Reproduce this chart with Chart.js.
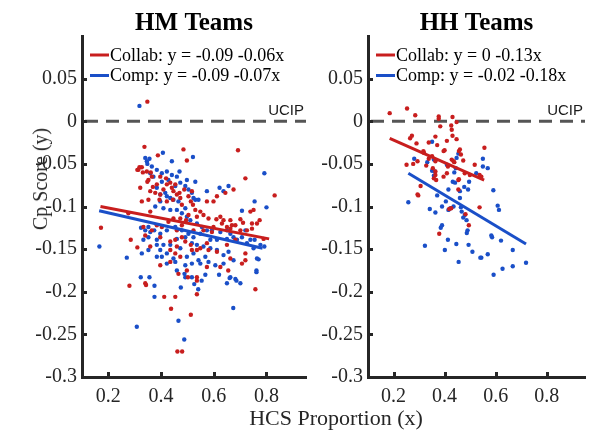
<!DOCTYPE html>
<html>
<head>
<meta charset="utf-8">
<title>Cp Score vs HCS Proportion</title>
<script src="https://cdn.jsdelivr.net/npm/chart.js@4.4.1/dist/chart.umd.min.js"></script>
<style>
  body { margin: 0; background: #fff; }
  #wrap { position: relative; width: 589px; height: 435px; overflow: hidden; }
  canvas { position: absolute; top: 0; }
  #cl { left: 0; }
  #cr { left: 310px; }
  .axlab { position: absolute; font-family: "Liberation Serif", "Times New Roman", serif; color: #262626; white-space: nowrap; line-height: 1; }
  #ylab { left: 40px; top: 179px; font-size: 20px; transform: translate(-50%, -50%) rotate(-90deg); }
  #xlab { left: 336px; top: 418px; font-size: 22px; transform: translate(-50%, -50%); }
</style>
</head>
<body>
<div id="wrap">
  <canvas id="cl" width="310" height="435"></canvas>
  <canvas id="cr" width="279" height="435"></canvas>
  <div class="axlab" id="ylab">Cp Score (y)</div>
  <div class="axlab" id="xlab">HCS Proportion (x)</div>
</div>
<script>
// ticks and ranges (same for both panels)
const xTicks = [0.2, 0.4, 0.6, 0.8];
const yTicks = [-0.3, -0.25, -0.2, -0.15, -0.1, -0.05, 0, 0.05];
const xRange = [0.1, 0.95];
const yRange = [-0.3, 0.1];
const ucipLevel = 0;

const panelTitles = ['HM Teams', 'HH Teams'];
const hmLegend = ['Collab: y = -0.09 -0.06x', 'Comp: y = -0.09 -0.07x'];
const hhLegend = ['Collab: y = 0 -0.13x', 'Comp: y = -0.02 -0.18x'];

// fitted lines, end points
const hmCollabFit = [[0.17, -0.100], [0.81, -0.138]];
const hmCompFit = [[0.165, -0.105], [0.785, -0.149]];
const hhCollabFit = [[0.185, -0.020], [0.555, -0.069]];
const hhCompFit = [[0.258, -0.061], [0.719, -0.144]];

// HM teams, collaborative
const hmCollab = [
  [0.348, 0.023], [0.337, -0.030], [0.485, -0.033], [0.388, -0.040], [0.498, -0.046], [0.692, -0.034],
  [0.314, -0.057], [0.327, -0.054], [0.346, -0.059], [0.361, -0.060], [0.365, -0.065], [0.397, -0.065],
  [0.419, -0.067], [0.435, -0.072], [0.454, -0.074], [0.321, -0.078], [0.348, -0.071], [0.359, -0.082],
  [0.378, -0.084], [0.397, -0.086], [0.447, -0.082], [0.470, -0.084], [0.517, -0.082], [0.327, -0.094],
  [0.352, -0.092], [0.394, -0.092], [0.422, -0.094], [0.445, -0.092], [0.479, -0.098], [0.513, -0.094],
  [0.574, -0.094], [0.612, -0.088], [0.599, -0.094], [0.675, -0.080], [0.644, -0.084], [0.720, -0.067],
  [0.831, -0.087], [0.751, -0.104], [0.739, -0.106], [0.701, -0.115], [0.663, -0.116], [0.637, -0.116],
  [0.625, -0.112], [0.599, -0.124], [0.561, -0.128], [0.523, -0.128], [0.495, -0.116], [0.479, -0.122],
  [0.460, -0.128], [0.536, -0.112], [0.593, -0.130], [0.663, -0.126], [0.701, -0.128], [0.745, -0.126],
  [0.774, -0.116], [0.789, -0.138], [0.172, -0.125], [0.276, -0.108], [0.285, -0.139], [0.310, -0.148],
  [0.359, -0.147], [0.397, -0.136], [0.454, -0.139], [0.479, -0.136], [0.513, -0.145], [0.536, -0.151],
  [0.574, -0.143], [0.473, -0.159], [0.397, -0.169], [0.435, -0.165], [0.466, -0.179], [0.498, -0.175],
  [0.536, -0.183], [0.574, -0.171], [0.625, -0.171], [0.663, -0.161], [0.720, -0.155], [0.720, -0.163],
  [0.707, -0.167], [0.310, -0.057], [0.318, -0.054], [0.331, -0.060], [0.352, -0.069], [0.369, -0.077],
  [0.384, -0.074], [0.409, -0.080], [0.422, -0.074], [0.441, -0.078], [0.460, -0.086], [0.473, -0.090],
  [0.488, -0.080], [0.504, -0.088], [0.521, -0.098], [0.530, -0.104], [0.549, -0.106], [0.561, -0.110],
  [0.580, -0.114], [0.610, -0.115], [0.631, -0.120], [0.650, -0.124], [0.669, -0.122], [0.682, -0.122],
  [0.711, -0.119], [0.726, -0.128], [0.745, -0.120], [0.764, -0.120], [0.504, -0.110], [0.473, -0.114],
  [0.447, -0.114], [0.428, -0.118], [0.403, -0.124], [0.384, -0.122], [0.365, -0.128], [0.340, -0.134],
  [0.435, -0.141], [0.460, -0.147], [0.492, -0.141], [0.517, -0.151], [0.549, -0.149], [0.580, -0.151],
  [0.612, -0.153], [0.650, -0.145], [0.682, -0.139], [0.435, -0.151], [0.454, -0.155], [0.333, -0.124],
  [0.359, -0.106], [0.280, -0.193], [0.340, -0.190], [0.343, -0.192], [0.412, -0.206], [0.454, -0.206],
  [0.438, -0.220], [0.513, -0.227], [0.462, -0.270], [0.480, -0.270], [0.502, -0.183], [0.536, -0.187],
  [0.536, -0.203], [0.758, -0.197], [0.655, -0.175]
];

// HM teams, competitive
const hmComp = [
  [0.318, 0.018], [0.340, -0.043], [0.356, -0.044], [0.407, -0.037], [0.441, -0.047], [0.521, -0.042],
  [0.470, -0.059], [0.359, -0.061], [0.371, -0.065], [0.403, -0.071], [0.428, -0.069], [0.454, -0.076],
  [0.498, -0.069], [0.530, -0.071], [0.416, -0.084], [0.435, -0.090], [0.397, -0.094], [0.378, -0.100],
  [0.409, -0.102], [0.435, -0.104], [0.460, -0.104], [0.492, -0.102], [0.523, -0.090], [0.542, -0.092],
  [0.574, -0.082], [0.622, -0.078], [0.637, -0.082], [0.656, -0.076], [0.707, -0.105], [0.755, -0.094],
  [0.792, -0.061], [0.800, -0.101], [0.324, -0.125], [0.352, -0.124], [0.374, -0.128], [0.397, -0.132],
  [0.422, -0.128], [0.454, -0.124], [0.479, -0.128], [0.504, -0.132], [0.523, -0.136], [0.549, -0.132],
  [0.587, -0.139], [0.612, -0.139], [0.650, -0.138], [0.675, -0.136], [0.726, -0.143], [0.755, -0.139],
  [0.777, -0.145], [0.792, -0.147], [0.166, -0.147], [0.270, -0.160], [0.327, -0.155], [0.352, -0.136],
  [0.384, -0.139], [0.397, -0.151], [0.422, -0.155], [0.447, -0.161], [0.473, -0.149], [0.498, -0.159],
  [0.523, -0.155], [0.542, -0.163], [0.568, -0.159], [0.606, -0.169], [0.637, -0.167], [0.675, -0.163],
  [0.764, -0.161], [0.770, -0.162], [0.762, -0.175], [0.323, -0.183], [0.356, -0.183], [0.403, -0.159],
  [0.460, -0.175], [0.492, -0.183], [0.568, -0.180], [0.663, -0.183], [0.682, -0.185], [0.346, -0.047],
  [0.348, -0.050], [0.365, -0.053], [0.384, -0.057], [0.403, -0.061], [0.422, -0.059], [0.441, -0.063],
  [0.460, -0.065], [0.473, -0.072], [0.492, -0.076], [0.504, -0.080], [0.517, -0.084], [0.530, -0.092],
  [0.384, -0.078], [0.397, -0.086], [0.422, -0.088], [0.447, -0.092], [0.466, -0.094], [0.479, -0.108],
  [0.498, -0.112], [0.511, -0.116], [0.536, -0.120], [0.555, -0.124], [0.574, -0.128], [0.593, -0.128],
  [0.625, -0.130], [0.650, -0.128], [0.663, -0.132], [0.688, -0.139], [0.707, -0.136], [0.720, -0.128],
  [0.739, -0.139], [0.751, -0.149], [0.340, -0.128], [0.359, -0.130], [0.384, -0.145], [0.409, -0.145],
  [0.435, -0.145], [0.460, -0.138], [0.492, -0.136], [0.517, -0.143], [0.536, -0.145], [0.561, -0.147],
  [0.587, -0.149], [0.612, -0.151], [0.637, -0.157], [0.656, -0.153], [0.549, -0.167], [0.580, -0.165],
  [0.517, -0.167], [0.492, -0.169], [0.454, -0.165], [0.422, -0.167], [0.384, -0.159], [0.352, -0.151],
  [0.333, -0.139], [0.375, -0.193], [0.375, -0.206], [0.466, -0.234], [0.308, -0.241], [0.488, -0.256],
  [0.489, -0.179], [0.517, -0.183], [0.475, -0.195], [0.526, -0.191], [0.541, -0.197], [0.554, -0.187],
  [0.620, -0.180], [0.650, -0.190], [0.660, -0.184], [0.686, -0.187], [0.701, -0.190], [0.674, -0.219],
  [0.762, -0.177]
];

// HH teams, collaborative
const hhCollab = [
  [0.185, 0.0095], [0.253, 0.015], [0.285, 0.007], [0.377, 0.0055], [0.377, 0.003], [0.431, 0.005],
  [0.447, -0.001], [0.426, -0.005], [0.428, -0.010], [0.431, -0.017], [0.383, -0.006], [0.364, -0.018],
  [0.338, -0.025], [0.409, -0.023], [0.447, -0.021], [0.272, -0.017], [0.265, -0.020], [0.290, -0.026],
  [0.371, -0.028], [0.460, -0.033], [0.456, -0.035], [0.464, -0.039], [0.396, -0.035], [0.400, -0.034],
  [0.317, -0.035], [0.319, -0.037], [0.351, -0.041], [0.338, -0.044], [0.364, -0.047], [0.251, -0.051],
  [0.277, -0.050], [0.294, -0.047], [0.328, -0.052], [0.354, -0.055], [0.428, -0.045], [0.435, -0.047],
  [0.438, -0.048], [0.473, -0.046], [0.518, -0.051], [0.556, -0.031], [0.413, -0.053], [0.409, -0.061],
  [0.364, -0.063], [0.358, -0.067], [0.396, -0.065], [0.454, -0.069], [0.456, -0.068], [0.479, -0.061],
  [0.499, -0.063], [0.537, -0.063], [0.544, -0.065], [0.364, -0.059], [0.367, -0.069], [0.306, -0.076],
  [0.294, -0.086], [0.297, -0.087], [0.454, -0.080], [0.418, -0.103], [0.426, -0.102], [0.482, -0.109],
  [0.537, -0.101], [0.495, -0.122], [0.379, -0.132]
];

// HH teams, competitive
const hhComp = [
  [0.351, -0.024], [0.454, -0.038], [0.281, -0.044], [0.332, -0.048], [0.358, -0.045], [0.409, -0.051],
  [0.447, -0.043], [0.550, -0.044], [0.569, -0.055], [0.550, -0.053], [0.351, -0.058], [0.362, -0.059],
  [0.358, -0.064], [0.444, -0.055], [0.438, -0.060], [0.432, -0.071], [0.441, -0.072], [0.496, -0.071],
  [0.524, -0.061], [0.492, -0.080], [0.477, -0.077], [0.415, -0.080], [0.460, -0.082], [0.591, -0.081],
  [0.371, -0.087], [0.405, -0.094], [0.390, -0.100], [0.435, -0.100], [0.423, -0.102], [0.415, -0.104],
  [0.460, -0.090], [0.464, -0.101], [0.467, -0.106], [0.479, -0.110], [0.473, -0.113], [0.486, -0.116],
  [0.490, -0.128], [0.487, -0.131], [0.608, -0.099], [0.613, -0.104], [0.258, -0.095], [0.342, -0.103],
  [0.364, -0.107], [0.390, -0.122], [0.385, -0.125], [0.413, -0.139], [0.446, -0.144], [0.494, -0.145],
  [0.544, -0.160], [0.586, -0.136], [0.583, -0.134], [0.323, -0.146], [0.401, -0.151], [0.509, -0.153],
  [0.569, -0.156], [0.621, -0.140], [0.667, -0.151], [0.455, -0.165], [0.540, -0.160], [0.592, -0.180],
  [0.627, -0.173], [0.667, -0.170], [0.719, -0.166]
];

const RED = '#c81e1e';
const BLUE = '#1a4fc8';
const AXIS = '#262626';
const SERIF = '"Liberation Serif", "Times New Roman", serif';

function fmtTick(v) {
  return String(Math.round(v * 100) / 100);
}

// titles, legend, UCIP line and inward ticks (matlab look)
const panelDecor = {
  id: 'panelDecor',
  beforeDatasetsDraw(chart, args, opts) {
    const ctx = chart.ctx;
    const a = chart.chartArea;
    const y0 = chart.scales.y.getPixelForValue(ucipLevel);
    ctx.save();
    ctx.strokeStyle = '#555555';
    ctx.lineWidth = 3;
    ctx.setLineDash([13, 8]);
    ctx.beginPath();
    ctx.moveTo(a.left + 3, y0);
    ctx.lineTo(a.right, y0);
    ctx.stroke();
    ctx.restore();
  },
  afterDraw(chart, args, opts) {
    const ctx = chart.ctx;
    const a = chart.chartArea;
    const xs = chart.scales.x, ys = chart.scales.y;
    ctx.save();

    // inward tick marks
    ctx.strokeStyle = AXIS;
    ctx.lineWidth = 3;
    yTicks.forEach(v => {
      const py = Math.round(ys.getPixelForValue(v)) + 0.5;
      ctx.beginPath(); ctx.moveTo(a.left, py); ctx.lineTo(a.left + 5, py); ctx.stroke();
    });
    xTicks.forEach(v => {
      const px = Math.round(xs.getPixelForValue(v)) + 0.5;
      ctx.beginPath(); ctx.moveTo(px, a.bottom); ctx.lineTo(px, a.bottom - 5); ctx.stroke();
    });

    // title
    ctx.fillStyle = '#000';
    ctx.font = 'bold 25px ' + SERIF;
    ctx.textAlign = 'center';
    ctx.textBaseline = 'alphabetic';
    ctx.fillText(opts.title, (a.left + a.right) / 2, 30);

    // legend
    const colors = [RED, BLUE];
    ctx.font = '18px ' + SERIF;
    ctx.textAlign = 'left';
    ctx.textBaseline = 'middle';
    opts.legend.forEach((txt, i) => {
      const ly = 55 + i * 20.5;
      ctx.strokeStyle = colors[i];
      ctx.lineWidth = 3;
      ctx.beginPath();
      ctx.moveTo(a.left + 8, ly);
      ctx.lineTo(a.left + 27, ly);
      ctx.stroke();
      ctx.fillStyle = '#000';
      ctx.fillText(txt, a.left + 28, ly + 1);
    });

    // UCIP label
    const y0 = ys.getPixelForValue(ucipLevel);
    ctx.font = '15px "Liberation Sans", Arial, sans-serif';
    ctx.textAlign = 'right';
    ctx.textBaseline = 'alphabetic';
    ctx.fillStyle = '#1a1a1a';
    ctx.fillText('UCIP', a.right - 2, y0 - 6);
    ctx.restore();
  }
};

function makePanel(canvasId, p) {
  return new Chart(document.getElementById(canvasId), {
    type: 'scatter',
    data: {
      datasets: [
        { data: p.collabFit, showLine: true, borderColor: RED, borderWidth: 3, pointRadius: 0 },
        { data: p.compFit, showLine: true, borderColor: BLUE, borderWidth: 3, pointRadius: 0 },
        { data: p.collab, backgroundColor: RED, borderWidth: 0, pointRadius: 2.2 },
        { data: p.comp, backgroundColor: BLUE, borderWidth: 0, pointRadius: 2.2 }
      ]
    },
    options: {
      responsive: false,
      animation: false,
      events: [],
      layout: { padding: { top: 36, right: p.padRight, left: 0, bottom: 0 } },
      plugins: {
        legend: { display: false },
        tooltip: { enabled: false },
        panelDecor: { title: p.title, legend: p.legend }
      },
      scales: {
        x: {
          type: 'linear',
          min: xRange[0],
          max: xRange[1],
          afterBuildTicks: s => { s.ticks = xTicks.map(v => ({ value: v })); },
          afterFit: s => { s.height = 58; },
          grid: { drawOnChartArea: false, drawTicks: false },
          border: { color: AXIS, width: 3 },
          ticks: { padding: 8, color: AXIS, font: { family: SERIF, size: 20 }, callback: v => fmtTick(v), maxRotation: 0 }
        },
        y: {
          type: 'linear',
          min: yRange[0],
          max: yRange[1],
          afterBuildTicks: s => { s.ticks = yTicks.map(v => ({ value: v })); },
          afterFit: s => { s.width = p.yWidth; },
          grid: { drawOnChartArea: false, drawTicks: false },
          border: { color: AXIS, width: 3 },
          ticks: { padding: 5, color: AXIS, font: { family: SERIF, size: 20 }, callback: v => fmtTick(v) }
        }
      }
    },
    plugins: [panelDecor]
  });
}

makePanel('cl', {
  title: panelTitles[0], legend: hmLegend, yWidth: 82, padRight: 3,
  collab: hmCollab, comp: hmComp, collabFit: hmCollabFit, compFit: hmCompFit
});
makePanel('cr', {
  title: panelTitles[1], legend: hhLegend, yWidth: 58, padRight: 0,
  collab: hhCollab, comp: hhComp, collabFit: hhCollabFit, compFit: hhCompFit
});
</script>
</body>
</html>
